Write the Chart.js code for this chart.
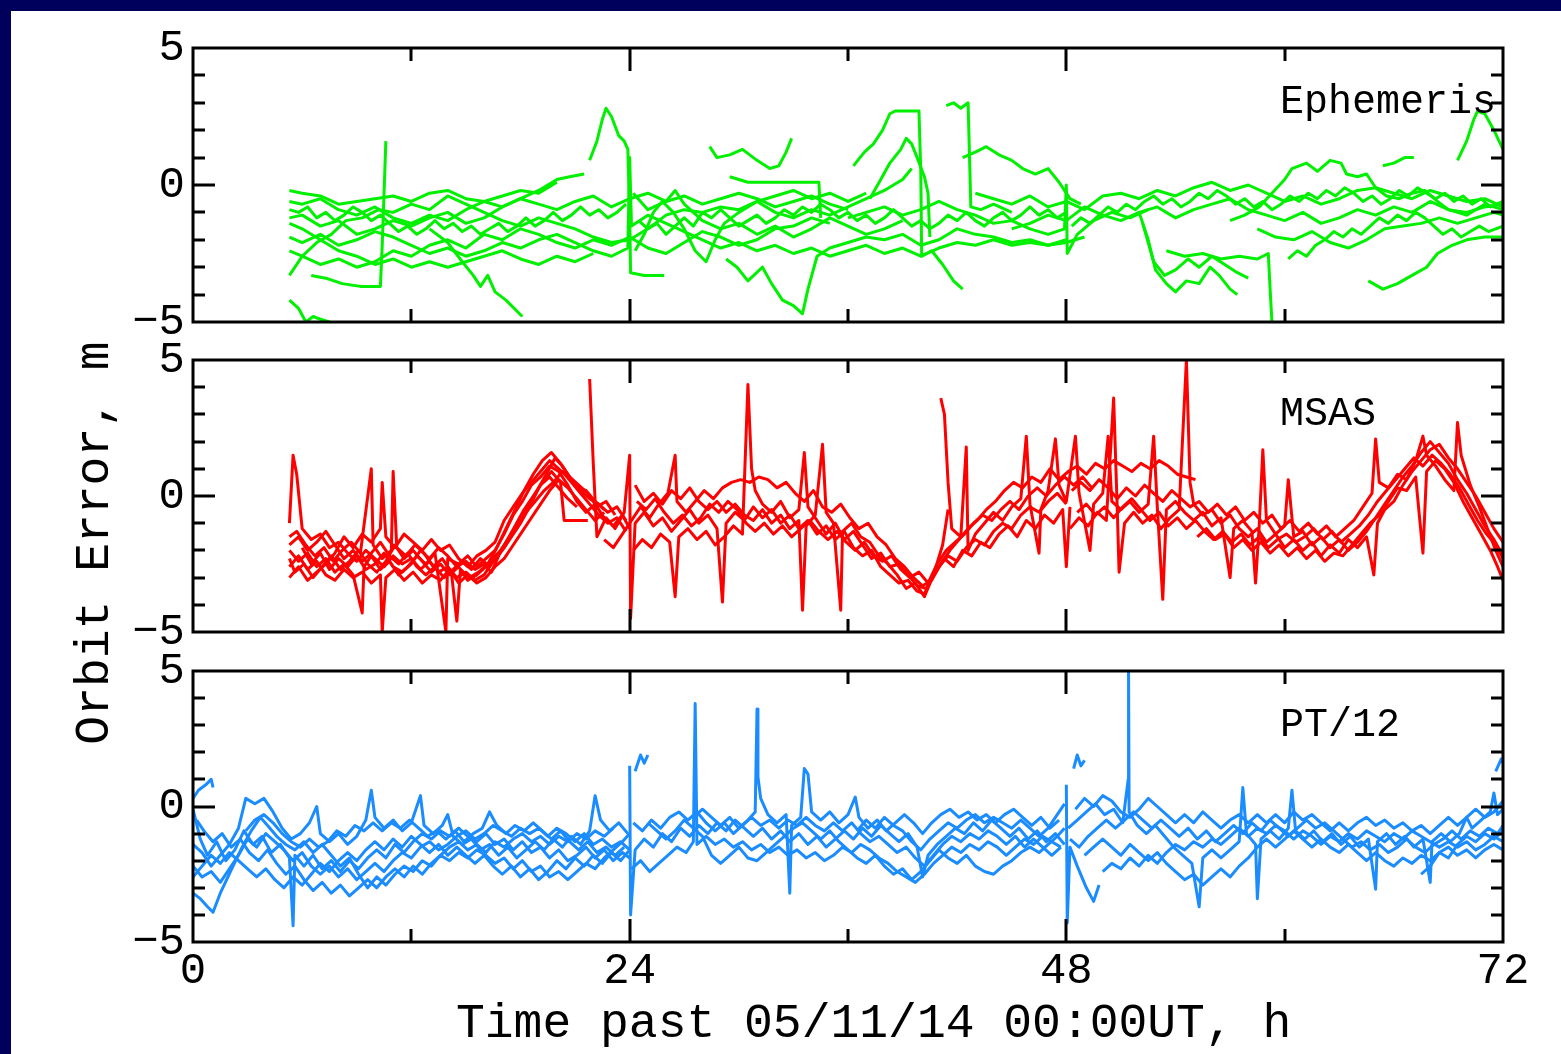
<!DOCTYPE html>
<html lang="en">
<head>
<meta charset="UTF-8">
<title>Orbit Error</title>
<script src="https://cdn.jsdelivr.net/npm/chart.js"></script>
<style>
  body { margin: 0; width: 1561px; height: 1054px; overflow: hidden; position: relative; background: #00005c; font-family: 'Liberation Mono', monospace; }
  #sheet { position: absolute; left: 11px; top: 11px; width: 1550px; height: 1043px; background: #fff; }
  #sheet canvas { position: absolute; left: 0; top: 0; }
  .axis-title { position: absolute; font-family: 'Liberation Mono', monospace; font-size: 48px; line-height: 48px; color: #000; white-space: nowrap; }
  #xtitle { left: 456px; top: 1000px; }
  #ytitle { left: -205px; top: 519px; width: 600px; text-align: center; transform: rotate(-90deg); }
</style>
</head>
<body>
<div id="sheet">
  <canvas id="ephemeris" width="1550" height="1043"></canvas>
  <canvas id="msas" width="1550" height="1043"></canvas>
  <canvas id="pt12" width="1550" height="1043"></canvas>
</div>
<div class="axis-title" id="ytitle">Orbit Error, m</div>
<div class="axis-title" id="xtitle">Time past 05/11/14 00:00UT, h</div>

<script>
// hours on x, metres on y
const xTickHours = [0, 12, 24, 36, 48, 60, 72];
const xTickLabels = [0, 24, 48, 72];
const yTickMetres = [-5, -4, -3, -2, -1, 0, 1, 2, 3, 4, 5];
const yTickLabels = [-5, 0, 5];
const panelNames = ['Ephemeris', 'MSAS', 'PT/12'];

// each track is one satellite pass: [hour, error m]
const ephemerisTracks = [
  [[6.5,-3.3],[7.3,-3.4],[8.2,-3.6],[9.2,-3.7],[10.3,-3.7],[10.4,-2.2],[10.5,-0.3],[10.6,1.6]],
  [[5.3,-3.3],[6,-2.6],[6.8,-2.1],[7.6,-1.8],[8.4,-1.3],[9.3,-1.2],[10.2,-0.9],[11,-1.0],[12,-0.7],[13,-0.9],[14,-0.4],[15,-0.7],[16,-1.0],[17,-1.3],[18,-1.5],[19,-1.2],[20,-1.4],[21,-1.6],[22,-1.9],[23,-2.1],[24,-2.0],[25,-1.6],[26,-1.1],[27,-0.9],[28,-1.0],[29,-0.8],[30,-0.9],[31,-0.6],[32,-1.0],[33,-1.2],[34,-0.9],[35,-1.1],[36,-0.8],[37,-0.5],[38,-0.2],[39,0.2],[39.5,0.6]],
  [[5.3,-0.2],[6,-0.3],[7,-0.4],[8,-0.7],[9,-0.6],[10,-0.5],[11,-0.4],[12,-0.6],[13,-0.3],[14,-0.2],[15,-0.5],[16,-0.6],[17,-0.4],[18,-0.2],[19,-0.3],[20,0.1]],
  [[21.8,0.9],[22.2,1.6],[22.5,2.4],[22.7,2.8],[23,2.5],[23.4,1.8],[23.7,1.6],[23.9,1.3],[24.0,-1.0],[24.05,-3.2],[24.8,-3.3],[25.9,-3.3]],
  [[5.3,-1.2],[6,-1.1],[7,-1.5],[8,-1.3],[9,-1.8],[10,-1.6],[11,-1.3],[12,-1.5],[13,-1.2],[14,-1.0],[15,-1.4],[16,-1.2],[17,-0.8],[18,-0.5],[19,-0.7],[20,-0.9],[21,-0.6],[22,-0.4],[23,-0.8],[24,-0.5],[25,-0.3],[26,-0.6],[27,-0.4],[28,-0.7],[29,-0.5],[30,-0.3],[31,-0.5],[32,-0.8],[33,-0.6],[34,-0.4],[35,-0.7],[36,-0.9]],
  [[5.3,-2.4],[6,-2.6],[7,-2.9],[8,-2.7],[9,-3.0],[10,-2.8],[11,-2.4],[12,-2.6],[13,-2.2],[14,-2.0],[15,-2.3],[16,-1.8],[17,-2.0],[18,-1.6],[19,-1.8],[20,-2.1],[21,-2.3],[22,-2.0],[23,-2.2],[24,-1.9],[25,-2.3],[26,-2.5],[27,-2.1],[28,-1.7],[29,-1.9],[30,-2.2],[31,-2.0],[32,-1.6],[33,-1.5],[34,-1.2],[35,-1.4]],
  [[13,-1.6],[14,-2.1],[14.8,-2.8],[15.4,-3.3],[15.8,-3.7],[16.2,-3.3],[16.6,-3.9],[17.2,-4.2],[18.1,-4.8]],
  [[5.3,-4.2],[5.8,-4.5],[6.2,-5.0],[6.6,-4.8],[7.0,-4.9],[7.5,-5.0]],
  [[29.3,-2.7],[29.9,-3.0],[30.5,-3.5],[31.3,-3.0],[31.8,-3.6],[32.4,-4.2],[33,-4.4],[33.5,-4.7],[33.8,-3.8],[34.3,-2.6],[35,-2.3],[36,-2.1],[37,-1.9],[38,-2.0],[39,-1.8],[40,-2.2],[41,-2.0],[42,-1.6],[43,-1.8],[44,-1.9],[45,-2.1],[46,-2.0],[47,-2.2],[48,-2.1],[49,-1.9]],
  [[36.3,0.7],[36.9,1.2],[37.4,1.5],[37.9,2.0],[38.3,2.6],[38.6,2.7],[39.2,2.7],[39.9,2.7],[40.0,0.5],[40.05,-2.6],[40.6,-2.4],[41.2,-2.9],[41.8,-3.5],[42.3,-3.8]],
  [[37.2,-0.5],[37.8,0.2],[38.3,0.8],[38.9,1.3],[39.2,1.7],[39.5,1.5],[39.8,1.0],[40.2,0.3],[40.4,-0.3],[40.5,-1.9]],
  [[41.4,2.9],[41.8,3.0],[42.2,2.8],[42.6,3.0],[42.7,0.5],[42.75,-0.8],[43.3,-0.9],[44,-0.7],[45,-1.0]],
  [[42.3,1.0],[43,1.2],[43.6,1.4],[44.3,1.1],[45,0.9],[45.6,0.6],[46.3,0.4],[47,0.6],[47.6,0.1],[48.2,-0.5],[48.8,-0.7]],
  [[52,-1.0],[52.5,-2.0],[52.9,-3.1],[53.5,-3.6],[54,-3.9],[54.6,-3.5],[55.3,-3.6],[55.9,-3.0],[56.4,-3.3],[57,-3.8],[57.4,-4.0]],
  [[52.2,-1.4],[52.8,-2.8],[53.4,-3.3],[54,-3.1],[54.7,-2.7],[55.3,-3.0],[56,-2.6],[56.7,-2.9],[57.4,-3.2],[58,-3.4]],
  [[53.5,-2.4],[54.5,-2.6],[55.5,-2.5],[56.5,-2.7],[57.5,-2.6],[58.5,-2.7],[59.1,-2.5],[59.2,-3.8],[59.3,-5.0]],
  [[64.6,-3.5],[65.4,-3.8],[66.2,-3.6],[67,-3.3],[67.8,-3.0],[68.4,-2.5],[69.2,-2.2],[70,-2.0],[71,-1.9],[72,-1.9]],
  [[69.5,0.9],[70,1.6],[70.4,2.4],[70.6,2.7],[71,2.6],[71.5,2.0],[72,1.3]],
  [[65.4,0.7],[66,0.8],[66.6,1.0],[67.1,1.0]],
  [[57,-1.3],[57.8,-1.1],[58.6,-0.8],[59.3,-0.3],[60,0.2],[60.4,0.6],[61.2,0.8],[61.8,0.5],[62.5,0.9],[63.1,0.8],[63.4,0.4],[64,0.3],[64.5,0.4],[65,-0.1],[65.6,-0.4],[66.3,-0.5],[67,-0.3],[67.7,-0.2],[68.4,-0.6],[69,-0.9],[70,-1.0],[71,-0.8],[72,-0.7]],
  [[43,-0.3],[44,-0.5],[45,-0.7],[46,-0.4],[47,-0.8],[48,-0.6],[49,-0.9],[50,-0.4],[51,-0.3],[52,-0.5],[53,-0.2],[54,-0.4],[55,-0.1],[56,0.1],[57,-0.2],[58,0.0],[59,-0.3],[60,-0.6],[61,-0.4],[62,-0.7],[63,-0.5],[64,-0.2],[65,-0.1],[66,-0.3],[67,-0.5],[68,-0.2],[69,-0.4],[70,-0.6],[71,-0.5],[72,-0.8]],
  [[45,-1.6],[46,-1.4],[47,-1.1],[48,-1.3],[49,-0.8],[50,-1.1],[51,-1.3],[52,-1.0],[53,-0.8],[54,-1.2],[55,-0.9],[56,-0.7],[57,-0.5],[58,-0.9],[59,-1.1],[60,-1.3],[61,-1.0],[62,-1.4],[63,-1.2],[64,-0.9],[65,-1.1],[66,-0.8],[67,-1.0],[68,-0.6],[69,-0.9],[70,-1.1],[71,-0.7],[72,-0.9]],
  [[58.5,-1.6],[59.5,-1.9],[60.5,-2.0],[61.5,-1.7],[62.5,-2.1],[63.5,-2.3],[64.5,-2.0],[65.5,-1.6],[66.5,-1.5],[67.5,-1.4],[68.5,-1.2],[69.5,-1.4],[70.5,-1.2],[71.5,-1.0],[72,-1.1]],
  [[36,-1.2],[37,-1.0],[38,-0.8],[39,-1.1],[40,-0.9],[41,-0.6],[42,-0.9],[43,-1.1],[44,-1.4],[45,-1.3],[46,-1.6],[47,-1.8],[47.9,-1.6],[48,0.0],[48.05,-2.5],[48.6,-1.8],[49.5,-1.3],[50.5,-1.0],[51.5,-1.2],[52.5,-0.9]],
  [[24.2,-0.3],[25,-0.9],[26,-0.6],[26.5,-0.2],[27,-0.7],[28,-1.3],[29,-1.6],[30,-1.4],[31,-1.8],[32,-1.5],[33,-1.9],[34,-1.6],[35,-1.2],[36,-1.5],[37,-1.8],[38,-1.6],[39,-1.3]],
  [[24.3,-2.4],[24.8,-1.8],[25.3,-1.0],[25.8,-0.6],[26.4,-1.0],[27,-1.6],[27.6,-2.4],[28.2,-2.8],[28.7,-2.0],[29.2,-1.4],[30,-1.0],[31,-0.6],[32,-0.4],[33,-0.2],[34,-0.5],[35,-0.3],[36,-0.6],[37,-0.3]],
  [[29.5,0.3],[30.5,0.1],[31.5,0.1],[32.5,0.1],[33.5,0.1],[34.4,0.1],[34.5,-1.2]],
  [[28.4,1.4],[28.8,1.0],[29.5,1.1],[30.2,1.3],[31,0.9],[31.7,0.6],[32.2,0.7],[32.6,1.2],[32.9,1.7]],
  [[5.3,-0.6],[6,-0.7],[7,-0.5],[8,-0.9],[9,-1.1],[10,-0.8],[11,-1.2],[12,-1.4],[13,-1.1],[14,-1.3],[15,-0.9],[16,-0.6],[17,-0.8],[18,-0.5],[19,-0.2],[20,0.2],[20.7,0.3],[21.5,0.4]],
  [[5.3,-1.9],[6,-2.1],[7,-1.8],[8,-2.2],[9,-2.0],[10,-1.7],[11,-1.9],[12,-2.2],[13,-2.5],[14,-2.3],[15,-2.6],[16,-2.4],[17,-2.1],[18,-2.3],[19,-2.0],[20,-1.8],[21,-2.1],[22,-2.4],[23,-2.6],[23.9,-2.3],[24.0,1.0],[24.1,-1.5],[25,-1.1],[26,-1.4],[27,-1.7],[28,-2.0],[29,-2.3],[30,-2.1],[31,-2.4],[32,-2.2],[33,-2.5],[34,-2.3],[35,-2.6],[36,-2.4],[37,-2.2],[38,-2.5],[39,-2.3],[40,-2.6],[41,-2.3],[42,-2.1],[43,-2.2],[44,-2.0],[45,-2.2],[46,-2.1],[47,-2.2],[48,-2.0]],
  [[5.3,-1.4],[6,-1.6],[7,-2.0],[8,-2.4],[9,-2.6],[10,-2.9],[11,-2.7],[12,-3.0],[13,-2.8],[14,-3.0],[15,-2.8],[16,-2.6],[17,-2.4],[18,-2.7],[19,-2.9],[20,-2.6],[21,-2.8],[22,-2.5]],
  [[5.3,-0.9],[5.8,-1.0],[6.3,-0.8],[6.8,-1.2],[7.3,-1.0],[7.8,-1.3],[8.3,-1.1],[8.8,-0.8],[9.3,-1.0],[9.8,-1.3],[10.3,-1.1],[10.8,-1.4],[11.3,-1.7],[11.8,-1.5],[12.3,-1.8],[12.8,-1.6],[13.3,-1.3],[13.8,-1.6],[14.3,-1.4],[14.8,-1.7],[15.3,-1.5],[15.8,-1.8],[16.3,-1.6],[16.8,-1.4],[17.3,-1.7],[17.8,-1.5],[18.3,-1.2],[18.8,-1.5],[19.3,-1.3],[19.8,-1.0],[20.3,-1.3],[20.8,-1.1],[21.3,-0.8],[21.8,-1.1],[22.3,-0.9],[22.8,-1.2],[23.3,-1.0],[23.8,-0.7]],
  [[24.5,-1.3],[25,-1.6],[25.5,-1.4],[26,-1.8],[26.5,-1.5],[27,-1.2],[27.5,-1.5],[28,-1.0],[28.5,-1.2],[29,-0.9],[29.5,-1.2],[30,-1.5],[30.5,-1.3],[31,-1.1],[31.5,-1.4],[32,-1.2],[32.5,-0.9],[33,-1.1],[33.5,-0.8],[34,-1.0],[34.5,-0.7],[35,-0.9],[35.5,-1.2],[36,-1.0],[36.5,-1.3],[37,-1.1],[37.5,-1.4],[38,-1.2],[38.5,-0.9],[39,-1.2],[39.5,-1.5],[40,-1.3],[40.5,-1.6],[41,-1.4],[41.5,-1.1],[42,-1.3],[42.5,-1.0],[43,-1.3],[43.5,-1.5],[44,-1.2],[44.5,-1.0],[45,-1.3],[45.5,-1.1],[46,-0.8],[46.5,-1.1],[47,-0.9],[47.5,-1.2],[48,-1.0]],
  [[48.3,-1.5],[48.8,-1.2],[49.3,-1.4],[49.8,-1.1],[50.3,-0.8],[50.8,-1.0],[51.3,-0.7],[51.8,-0.9],[52.3,-0.6],[52.8,-0.4],[53.3,-0.7],[53.8,-0.5],[54.3,-0.8],[54.8,-0.6],[55.3,-0.3],[55.8,-0.5],[56.3,-0.2],[56.8,-0.4],[57.3,-0.7],[57.8,-0.5],[58.3,-0.8],[58.8,-0.6],[59.3,-0.9],[59.8,-0.7],[60.3,-0.4],[60.8,-0.6],[61.3,-0.3],[61.8,-0.5],[62.3,-0.2],[62.8,-0.4],[63.3,-0.1],[63.8,-0.3],[64.3,-0.6],[64.8,-0.4],[65.3,-0.7],[65.8,-0.5],[66.3,-0.2],[66.8,-0.4],[67.3,-0.1],[67.8,-0.3],[68.3,-0.5],[68.8,-0.3],[69.3,-0.6],[69.8,-0.4],[70.3,-0.7],[70.8,-0.5],[71.3,-0.8],[72,-0.6]],
  [[60.2,-2.7],[60.7,-2.4],[61.2,-2.6],[61.7,-2.2],[62.2,-2.0],[62.7,-1.7],[63.2,-1.9],[63.7,-1.6],[64.2,-1.8],[64.7,-1.5],[65.2,-1.2],[65.7,-1.4],[66.2,-1.1],[66.7,-1.3],[67.2,-1.0],[67.7,-1.2],[68.2,-1.5],[68.7,-1.8],[69.2,-1.6],[69.7,-1.9],[70.2,-1.7],[70.7,-1.5],[71.2,-1.7],[72,-1.5]]
];

const msasTracks = [
  [[5.3,-1.0],[5.5,1.5],[5.7,0.8],[6,-1.2],[6.5,-1.6],[7,-1.4],[7.5,-1.9],[8,-1.7],[8.5,-2.1],[9,-2.4],[9.5,-2.0],[10,-2.3],[10.5,-2.6],[11,-2.2],[11.5,-2.5],[12,-2.3],[12.5,-2.7],[13,-2.4],[13.5,-2.8],[14,-2.6],[14.5,-3.0],[15,-2.8],[15.5,-3.1],[16,-2.9],[16.5,-2.4],[17,-2.0],[17.5,-1.5],[18,-1.0],[18.5,-0.4],[19,0.3],[19.5,0.9],[19.9,1.4],[20.3,1.1],[20.8,0.6],[21.3,0.2],[21.8,-0.1],[22.3,-0.3],[22.8,-0.6],[23.3,-0.4],[23.8,-0.9]],
  [[5.3,-2.0],[5.8,-2.4],[6.3,-2.1],[6.8,-2.6],[7.3,-2.3],[7.8,-2.8],[8.3,-2.5],[8.8,-2.9],[9.3,-4.3],[9.4,-2.6],[9.8,-2.2],[10.3,-2.7],[10.8,-2.4],[11.3,-2.9],[11.8,-2.6],[12.3,-2.2],[12.8,-2.5],[13.3,-2.1],[13.9,-5.0],[14.0,-2.3],[14.6,-2.5],[15.1,-2.2],[15.6,-2.6],[16.1,-2.3],[16.6,-2.0],[17.1,-1.4],[17.6,-0.7],[18.1,-0.2],[18.6,0.4],[19.1,0.7],[19.6,1.1],[20.1,0.9],[20.6,0.4],[21.1,-0.2],[21.6,-0.6],[22.1,-0.3],[22.6,-0.8],[23.1,-1.1],[23.6,-0.7],[24.0,-1.2]],
  [[5.3,-1.5],[5.7,-1.3],[6.2,-1.8],[6.7,-2.2],[7.2,-1.9],[7.7,-2.4],[8.2,-2.0],[8.7,-1.7],[9.2,-2.1],[9.8,1.0],[9.9,-1.8],[10.4,-2.3],[10.9,-2.0],[11.0,0.9],[11.2,-1.9],[11.7,-2.2],[12.2,-1.8],[12.7,-2.1],[13.2,-2.6],[13.7,-2.3],[14.2,-2.8],[14.5,-4.6],[14.7,-2.7],[15.2,-3.0],[15.7,-2.8],[16.2,-2.5],[16.7,-1.9],[17.2,-1.2],[17.7,-0.5],[18.2,0.2],[18.7,0.8],[19.2,1.3],[19.7,1.6],[20.2,1.2],[20.7,0.7],[21.2,0.4],[21.7,0.1],[22.2,-0.4],[22.7,-0.2],[23.2,-0.7]],
  [[5.3,-2.6],[5.8,-2.2],[6.3,-2.7],[6.8,-2.4],[7.3,-2.9],[7.8,-3.1],[8.3,-2.7],[8.8,-3.0],[9.3,-2.8],[9.8,-3.2],[10.3,-2.9],[10.4,-5.0],[10.6,-3.0],[11.1,-2.7],[11.6,-3.1],[12.1,-2.8],[12.6,-3.2],[13.1,-2.9],[13.6,-3.1],[14.1,-2.7],[14.6,-3.2],[15.1,-2.9],[15.6,-3.2],[16.1,-3.0],[16.6,-2.6],[17.1,-2.3],[17.6,-1.8],[18.1,-1.3],[18.6,-0.8],[19.1,-0.3],[19.6,0.2],[20.1,0.6],[20.6,0.3],[21.1,-0.1],[21.6,-0.5],[22.1,-0.9],[22.6,-0.6]],
  [[5.3,-3.0],[5.8,-2.6],[6.3,-3.1],[6.8,-2.8],[7.3,-2.5],[7.8,-2.1],[8.3,-1.5],[8.8,-1.9],[9.3,-1.4],[9.8,-1.7],[10.3,-1.2],[10.4,0.5],[10.6,-1.5],[11.1,-1.9],[11.6,-1.4],[12.1,-1.7],[12.6,-2.0],[13.1,-1.6],[13.6,-2.0],[14.1,-1.8],[14.6,-2.3],[15.1,-2.6],[15.6,-2.2],[16.1,-2.0],[16.6,-1.7],[17.1,-0.9],[17.6,-0.4],[18.1,0.1],[18.6,0.5],[19.1,0.9],[19.6,1.3],[20.1,1.0],[20.6,0.7],[21.1,0.3],[21.6,0.2],[22.1,-0.2],[22.6,-0.5]],
  [[6,-1.9],[6.5,-2.5],[7,-2.1],[7.5,-2.7],[8,-2.3],[8.5,-2.6],[9,-2.2],[9.5,-2.7],[10,-2.5],[10.5,-2.1],[11,-2.6],[11.5,-2.8],[12,-2.5],[12.5,-2.0],[13,-2.3],[13.5,-1.9],[14,-2.2],[14.5,-2.6],[15,-2.4],[15.5,-2.7],[16,-2.5],[16.4,-2.8],[16.8,-2.2],[17.2,-1.7],[17.7,-1.1],[18.2,-0.5],[18.7,0.0],[19.2,0.5],[19.7,0.9],[20.2,0.5],[20.4,-0.9],[21,-0.9],[21.7,-0.9]],
  [[21.8,4.3],[22.0,1.2],[22.2,-1.5],[22.7,-0.8],[23.2,-1.2],[23.7,-0.6],[24.0,1.5],[24.05,-4.5],[24.3,-1.0],[24.8,-0.6],[25.3,-1.1],[25.8,-0.8],[26.3,-1.3],[26.8,-0.9],[27.3,-0.5],[27.8,-1.0],[28.3,-0.7],[28.8,-1.2],[29.1,-3.9],[29.3,-1.0],[29.8,-0.6],[30.3,-0.9],[30.8,-0.4],[31.3,-0.8],[31.8,-0.5],[32.3,-1.0],[32.8,-0.7],[33.3,-1.2],[33.8,-0.9],[34.3,-1.4],[34.8,-1.1],[35.3,-1.6],[35.8,-1.3],[36.3,-1.9],[36.8,-2.2],[37.3,-2.0],[37.8,-2.6],[38.3,-2.9],[38.8,-3.2],[39.3,-3.1],[39.8,-3.5],[40.2,-3.6],[40.6,-3.0],[41.0,-2.6],[41.5,-2.2],[42,-2.4],[42.5,-1.9],[43,-1.6],[43.5,-1.8],[44,-1.3],[44.5,-1.0],[45,-1.2],[45.5,-0.7],[46,-0.4],[46.5,-0.6],[47,-0.2],[47.5,0.1],[48,-0.3]],
  [[22.6,-1.6],[23.1,-1.9],[23.6,-1.4],[24.1,-0.9],[24.6,-0.4],[25.1,-0.8],[25.6,-0.3],[26.1,0.1],[26.5,1.5],[26.6,-0.2],[27.1,-0.6],[27.6,-0.2],[28.1,0.2],[28.6,-0.1],[29.1,0.3],[29.6,0.5],[30.1,0.6],[30.6,0.5],[31.1,0.7],[31.6,0.6],[32.1,0.3],[32.6,0.5],[33.1,0.1],[33.6,-0.2],[34.1,0.2],[34.6,-0.4],[35.1,-0.6],[35.6,-0.3],[36.1,-0.8],[36.6,-1.2],[37.1,-1.0],[37.6,-1.5],[38.1,-1.8],[38.6,-2.3],[39.1,-2.6],[39.6,-3.0],[40.1,-3.3],[40.6,-3.1],[41.1,-2.5],[41.6,-2.0],[42.1,-1.6],[42.6,-1.2],[43.1,-0.9],[43.6,-0.5],[44.1,-0.2],[44.6,0.2],[45.1,0.5],[45.6,0.3],[46.1,0.7],[46.6,0.5],[47.1,1.0],[47.6,0.6],[48.1,0.9],[48.6,1.1],[49.1,0.8],[49.6,1.2],[50.1,1.0],[50.6,1.3],[51.1,1.1],[51.6,0.9],[52.1,1.2],[52.6,1.0],[53.1,1.3],[53.6,1.1],[54.1,0.8],[54.6,0.7],[55.1,0.6]],
  [[24.2,-2.0],[24.7,-1.6],[25.2,-1.9],[25.7,-1.4],[26.2,-1.7],[26.5,-3.7],[26.7,-1.5],[27.2,-1.2],[27.7,-1.6],[28.2,-1.3],[28.7,-1.8],[29.2,-1.5],[29.7,-1.1],[30.2,-1.4],[30.5,4.1],[30.7,1.0],[30.9,0.2],[31.3,-0.3],[31.8,-0.6],[32.3,-0.2],[32.8,-0.8],[33.3,-0.5],[33.6,1.6],[33.8,-0.4],[34.3,-0.9],[34.8,-1.4],[35.3,-1.0],[35.8,-1.6],[36.3,-1.3],[36.8,-1.8],[37.3,-2.3],[37.8,-2.1],[38.3,-2.6],[38.8,-2.5],[39.3,-2.9],[39.8,-3.3],[40.3,-3.4],[40.8,-2.8],[41.3,-2.3],[41.8,-2.6],[42.3,-2.0],[42.8,-2.2],[43.3,-1.7],[43.8,-1.9],[44.3,-1.4],[44.8,-1.1],[45.3,-1.5],[45.8,-0.9],[46.3,-1.2],[46.8,-0.7],[47.3,-1.0],[47.8,-0.5],[48.0,-2.6],[48.2,-0.4]],
  [[24.3,0.4],[24.8,-0.2],[25.3,0.1],[25.8,-0.3],[26.3,0.2],[26.8,-0.1],[27.3,0.3],[27.8,-0.2],[28.3,-0.5],[28.8,-0.2],[29.3,-0.6],[29.8,-0.3],[30.3,-0.7],[30.8,-0.9],[31.3,-0.5],[31.8,-1.0],[32.3,-0.7],[32.8,-1.2],[33.3,-0.9],[33.5,-4.2],[33.7,-1.1],[34.2,-0.7],[34.6,1.9],[34.8,-0.6],[35.2,-1.0],[35.6,-4.2],[35.7,-1.3],[36.2,-1.0],[36.7,-1.5],[37.2,-1.7],[37.7,-2.2],[38.2,-2.5],[38.7,-2.9],[39.2,-3.4],[39.7,-3.2],[40.2,-3.7],[40.7,-2.9],[41.2,-1.8],[41.5,-0.5]],
  [[41.1,3.6],[41.3,3.0],[41.5,0.5],[41.7,-1.2],[42.2,-1.5],[42.5,1.8],[42.6,-2.0],[43,-1.4],[43.5,-1.0],[44,-0.6],[44.5,-0.9],[45,-0.4],[45.5,-0.1],[45.8,2.2],[46,-0.3],[46.5,-2.1],[46.6,-0.5],[47,0.2],[47.4,2.1],[47.6,0.4],[48,-0.2],[48.5,2.2],[48.7,0.1],[49.3,-2.0],[49.5,-0.3],[50,0.1],[50.3,2.2],[50.5,-0.2],[51,-0.5],[51.5,-0.2],[52,-0.6],[52.5,-0.3],[52.8,2.2],[53,-0.4],[53.3,-3.8],[53.5,-0.5],[54,-0.2],[54.5,-0.6],[55,-0.9],[55.5,-0.6],[56,-1.1],[56.5,-0.8],[57,-3.0],[57.2,-1.2],[57.7,-0.9],[58.2,-1.3],[58.4,-3.2],[58.6,-1.1],[58.8,1.7],[59,-0.9],[59.5,-1.4],[60,-1.1],[60.2,0.6],[60.5,-1.5],[61,-1.3],[61.5,-1.8],[62,-1.5],[62.5,-1.9],[63,-1.6],[63.5,-2.0],[64,-1.7],[64.5,-1.3],[65,-0.8],[65.5,-0.3],[66,0.2],[66.5,0.7],[67,1.1],[67.5,1.6],[68,2.0],[68.5,1.6],[69,1.2],[69.5,0.6],[70,0.1],[70.5,-0.5],[71,-1.1],[71.5,-1.6],[72,-2.2]],
  [[48.2,-1.2],[48.7,-0.8],[49.2,-1.1],[49.7,-0.6],[50.2,-0.9],[50.6,3.6],[50.8,-0.5],[50.9,-2.8],[51.2,-1.0],[51.7,-0.6],[52.2,-1.0],[52.7,-0.7],[53.2,-1.2],[53.7,-0.8],[54.2,-0.5],[54.6,5.0],[54.8,0.5],[55,-0.3],[55.5,-0.7],[56,-0.5],[56.5,-1.0],[57,-0.7],[57.5,-1.2],[58,-1.5],[58.5,-1.2],[59,-1.7],[59.5,-1.4],[60,-1.9],[60.5,-1.6],[61,-2.0],[61.5,-1.7],[62,-2.2],[62.5,-1.8],[63,-2.1],[63.5,-1.6],[64,-1.9],[64.5,-1.5],[64.9,-2.9],[65.1,-1.0],[65.5,-0.5],[66,-0.2],[66.5,0.4],[67,0.9],[67.5,1.3],[68,1.7],[68.5,1.9],[69,1.4],[69.5,1.0],[70,0.5],[70.5,0.0],[71,-0.6],[71.5,-1.2],[72,-1.7]],
  [[48.3,0.2],[48.8,0.5],[49.3,0.2],[49.8,0.6],[50.3,0.3],[50.8,-0.1],[51.3,0.3],[51.8,0.0],[52.3,0.4],[52.8,0.1],[53.3,-0.2],[53.8,0.2],[54.3,-0.1],[54.8,-0.4],[55.3,-0.2],[55.8,-0.6],[56.3,-0.3],[56.8,-0.7],[57.3,-0.4],[57.8,-0.9],[58.3,-0.6],[58.8,-1.0],[59.3,-0.7],[59.8,-1.2],[60.3,-0.9],[60.8,-1.3],[61.3,-1.0],[61.8,-1.4],[62.3,-1.1],[62.8,-1.5],[63.3,-1.2],[63.8,-0.9],[64.3,-0.4],[64.8,0.1],[65,2.1],[65.2,0.5],[65.7,0.3],[66.2,0.8],[66.7,0.6],[67.2,1.3],[67.6,2.2],[67.8,1.5],[68.3,1.1],[68.8,0.6],[69.3,0.2],[69.5,2.7],[69.7,1.5],[70.2,0.4],[70.7,-0.4],[71.2,-1.3],[71.6,-2.0],[72,-2.6]],
  [[55.2,-1.5],[55.7,-1.2],[56.2,-1.6],[56.7,-1.4],[57.2,-1.9],[57.7,-1.6],[58.2,-2.0],[58.7,-1.7],[59.2,-2.1],[59.7,-1.8],[60.2,-2.2],[60.7,-1.9],[61.2,-2.3],[61.7,-2.0],[62.2,-2.4],[62.7,-2.1],[63.2,-2.2],[63.7,-1.8],[64.2,-1.4],[64.7,-1.0],[65.2,-0.7],[65.7,-0.2],[66.2,0.3],[66.7,0.2],[67.2,0.7],[67.6,-2.1],[67.8,0.9],[68.3,1.3],[68.8,1.0],[69.3,0.5],[69.8,-0.2],[70.3,-0.8],[70.8,-1.4],[71.3,-2.0],[71.7,-2.6],[72,-3.1]],
  [[5.3,-1.8],[5.8,-1.5],[6.3,-2.0],[6.8,-1.7],[7.3,-1.3],[7.8,-1.8],[8.3,-2.3],[8.8,-2.0],[9.3,-2.4],[9.8,-2.1],[10.3,-1.7],[10.8,-2.2],[11.3,-2.5],[11.8,-2.1],[12.3,-2.6],[12.8,-2.9],[13.3,-2.6],[13.8,-3.0],[14.3,-2.7],[14.8,-2.4],[15.3,-2.7],[15.8,-2.3],[16.3,-2.6],[16.8,-2.1],[17.3,-1.6],[17.8,-1.2],[18.3,-0.6],[18.8,-0.2],[19.3,0.2],[19.8,0.5],[20.3,0.9],[20.8,0.5],[21.3,0.1],[21.8,-0.3],[22.3,-0.7],[22.8,-1.0],[23.3,-0.8],[23.8,-1.3]],
  [[5.3,-2.3],[5.6,-2.8],[6.1,-2.5],[6.6,-3.0],[7.1,-2.6],[7.6,-2.2],[8.1,-2.7],[8.6,-2.4],[9.1,-2.0],[9.6,-2.5],[10.1,-2.8],[10.6,-2.4],[11.1,-1.8],[11.6,-2.3],[12.1,-2.0],[12.6,-2.4],[13.1,-2.8],[13.6,-2.5],[14.1,-2.9],[14.6,-2.6],[15.1,-3.1],[15.6,-2.9],[16.1,-2.6],[16.6,-2.2],[17.1,-1.9],[17.6,-1.3],[18.1,-0.8],[18.6,-0.2],[19.1,0.4],[19.6,0.7],[20.1,0.3],[20.6,-0.1],[21.1,-0.4]],
  [[24.4,-0.2],[24.9,-0.5],[25.4,-0.1],[25.9,-0.6],[26.4,-1.0],[26.9,-0.7],[27.4,-1.1],[27.9,-0.8],[28.4,-0.3],[28.9,-0.6],[29.4,-0.2],[29.9,-0.5],[30.4,-1.0],[30.9,-1.3],[31.4,-1.0],[31.9,-1.4],[32.4,-1.1],[32.9,-1.5],[33.4,-1.2],[33.9,-0.9],[34.4,-1.3],[34.9,-1.6],[35.4,-1.3],[35.9,-1.7],[36.4,-2.0],[36.9,-1.7],[37.4,-2.2],[37.9,-2.4],[38.4,-2.2],[38.9,-2.7],[39.4,-3.0],[39.9,-2.8],[40.4,-3.2],[40.9,-2.5],[41.4,-2.0],[41.9,-1.7],[42.4,-1.4],[42.9,-1.0],[43.4,-0.7],[43.9,-0.9],[44.4,-0.5],[44.9,-0.2],[45.4,-0.5],[45.9,0.0],[46.4,0.3],[46.9,0.0],[47.4,0.4],[47.9,0.7],[48.4,0.4],[48.9,0.7],[49.4,0.3]],
  [[48.6,-0.6],[49.1,-0.3],[49.6,-0.7],[50.1,-0.4],[50.6,-0.8],[51.1,-0.4],[51.6,-0.1],[52.1,-0.5],[52.6,-0.9],[53.1,-0.6],[53.6,-1.1],[54.1,-0.8],[54.6,-1.2],[55.1,-0.9],[55.6,-1.3],[56.1,-1.6],[56.6,-1.3],[57.1,-1.7],[57.6,-1.4],[58.1,-1.8],[58.6,-1.5],[59.1,-1.9],[59.6,-1.6],[60.1,-1.4],[60.6,-1.7],[61.1,-1.5],[61.6,-1.2],[62.1,-1.6],[62.6,-1.3],[63.1,-1.7],[63.6,-1.4],[64.1,-1.1],[64.6,-0.7],[65.1,-0.2],[65.6,0.2],[66.1,0.6],[66.6,1.0],[67.1,1.4],[67.6,1.1],[68.1,1.5],[68.6,1.2],[69.1,0.8],[69.6,0.3],[70.1,-0.3],[70.6,-0.9],[71.1,-1.4],[71.6,-1.8],[72,-2.3]]
];

const pt12Tracks = [
  [[0,0.3],[0.3,0.6],[0.7,0.8],[1.0,1.0],[1.1,0.7]],
  [[0,-0.1],[0.4,-1.2],[0.8,-1.8],[1.3,-1.3],[1.8,-2.0],[2.3,-1.6],[2.8,-0.9],[3.3,-1.4],[3.8,-1.1],[4.3,-1.7],[4.8,-1.4],[5.3,-1.9],[5.5,-4.4],[5.6,-1.8],[6.1,-2.2],[6.6,-1.8],[7.1,-2.3],[7.6,-2.0],[8.1,-2.4],[8.6,-2.0],[9.1,-2.3],[9.6,-1.9],[10.1,-1.6],[10.6,-1.9],[11.1,-1.4],[11.6,-1.7],[12.1,-1.3],[12.6,-1.0],[13.1,-1.2],[13.6,-0.9],[14.1,-1.1],[14.6,-0.8],[15.1,-1.1],[15.6,-1.3],[16.1,-1.0],[16.6,-1.4],[17.1,-1.2],[17.6,-1.6],[18.1,-1.3],[18.6,-1.7],[19.1,-1.5],[19.6,-1.9],[20.1,-1.6],[20.6,-2.0],[21.1,-1.8],[21.6,-1.5],[22.1,-1.9],[22.6,-1.6],[23.1,-2.0],[23.6,-1.7],[24.0,-1.9]],
  [[0,-1.4],[0.5,-1.7],[1,-2.2],[1.5,-1.8],[2,-1.4],[2.5,-0.8],[2.9,0.3],[3.4,0.1],[3.9,0.3],[4.4,-0.2],[4.9,-0.8],[5.4,-1.2],[5.9,-1.0],[6.4,-0.6],[6.8,0.0],[7.0,-1.0],[7.5,-1.3],[8,-1.0],[8.5,-1.4],[9,-1.1],[9.5,-0.5],[9.8,0.6],[10.0,-0.4],[10.5,-0.8],[11,-0.5],[11.5,-0.9],[12,-0.6],[12.5,0.4],[12.7,-0.7],[13.2,-1.0],[13.7,-0.7],[14,-0.3],[14.3,-1.1],[14.8,-1.4],[15.3,-1.2],[15.8,-1.6],[16.3,-1.4],[16.8,-1.8],[17.3,-1.5],[17.8,-1.9],[18.3,-1.6],[18.8,-1.3],[19.3,-1.6],[19.8,-1.2],[20.3,-1.5],[20.8,-1.1],[21.3,-1.4],[21.8,-0.9],[22.1,0.4],[22.4,-0.5],[22.9,-0.9],[23.4,-0.6],[23.9,-1.0]],
  [[0,-2.2],[0.5,-2.6],[1,-2.4],[1.5,-2.8],[2,-2.3],[2.5,-1.8],[3,-1.2],[3.5,-1.5],[4,-1.0],[4.5,-1.3],[5,-1.6],[5.5,-2.0],[6,-1.7],[6.5,-2.2],[7,-2.5],[7.5,-2.2],[8,-2.6],[8.5,-2.3],[9,-2.7],[9.5,-2.4],[10,-2.1],[10.5,-2.4],[11,-2.0],[11.5,-1.7],[12,-1.9],[12.5,-1.5],[13,-1.3],[13.5,-1.6],[14,-1.4],[14.5,-1.1],[15,-0.9],[15.5,-1.2],[16,-1.0],[16.5,-0.7],[17,-0.9],[17.5,-1.1],[18,-0.8],[18.5,-1.0],[19,-0.8],[19.5,-1.1],[20,-0.8],[20.5,-1.0],[21,-1.3],[21.5,-1.0],[22,-1.4],[22.5,-1.2],[23,-1.5],[23.5,-1.3],[24,-1.6]],
  [[0,-3.2],[0.4,-3.4],[0.8,-3.7],[1.1,-3.9],[1.5,-3.2],[2.2,-2.2],[2.7,-1.5],[3.2,-0.9],[3.7,-0.4],[4.1,-0.7],[4.6,-1.1],[5.1,-1.4],[5.6,-1.6],[6.1,-1.3],[6.6,-1.7],[7.1,-1.4],[7.6,-1.8],[8.1,-2.2],[8.6,-1.9],[9.1,-2.5],[9.6,-3.0],[10.1,-2.6],[10.6,-2.9],[11.1,-2.5],[11.6,-2.2],[12.1,-2.4],[12.6,-2.0],[13.1,-2.2],[13.6,-1.8],[14.1,-1.5],[14.6,-1.3],[15.1,-1.6],[15.6,-1.4],[16.1,-1.7],[16.6,-1.3],[17.1,-1.5],[17.6,-1.2],[18.1,-1.0],[18.6,-1.3],[19.1,-1.1],[19.6,-1.4],[20.1,-1.1],[20.6,-1.3],[21.1,-1.0],[21.6,-1.2],[22.1,-0.9],[22.6,-1.1],[23.1,-0.8]],
  [[0.2,-0.5],[0.6,-0.9],[1.1,-1.3],[1.6,-1.0],[2.1,-1.5],[2.6,-1.2],[3.1,-1.7],[3.6,-2.0],[4.1,-1.6],[4.6,-2.1],[5.1,-2.5],[5.6,-2.2],[6.1,-2.7],[6.6,-3.1],[7.1,-2.8],[7.6,-3.2],[8.1,-2.9],[8.6,-3.3],[9.1,-3.0],[9.6,-2.7],[10.1,-3.0],[10.6,-2.6],[11.1,-2.3],[11.6,-2.6],[12.1,-2.2],[12.6,-2.5],[13.1,-2.1],[13.6,-1.8],[14.1,-2.0],[14.6,-1.7],[15.1,-1.9],[15.6,-1.6],[16.1,-1.8],[16.6,-2.1],[17.1,-1.9],[17.6,-2.3],[18.1,-2.0],[18.6,-2.4],[19.1,-2.2],[19.6,-2.6],[20.1,-2.4],[20.6,-2.7],[21.1,-2.4],[21.6,-2.1],[22.1,-2.3],[22.6,-1.9],[23.1,-1.6],[23.6,-1.3],[24,-1.0]],
  [[2.9,-0.9],[3.4,-0.5],[3.9,-0.3],[4.4,-0.6],[4.9,-1.0],[5.4,-1.3],[5.9,-1.5],[6.4,-1.2],[6.9,-1.5],[7.4,-1.3],[7.9,-0.9],[8.4,-1.1],[8.9,-0.7],[9.4,-0.9],[9.9,-0.6],[10.4,-0.9],[10.9,-0.6],[11.4,-0.8],[11.9,-0.5],[12.4,-0.8],[12.9,-1.1],[13.4,-0.9],[13.9,-1.2],[14.4,-0.9],[14.9,-1.3],[15.4,-1.0],[15.9,-0.8],[16.3,-0.2],[16.7,-0.7],[17.2,-1.0],[17.7,-0.7],[18.2,-0.9],[18.7,-0.6],[19.2,-0.9],[19.7,-1.2],[20.2,-0.9],[20.7,-1.3],[21.2,-1.6],[21.7,-1.3],[22.2,-1.7],[22.7,-1.5],[23.2,-1.8],[23.7,-1.5]],
  [[24.0,1.5],[24.05,-4.0],[24.3,-1.6],[24.8,-1.2],[25.3,-1.5],[25.8,-1.0],[26.3,-1.3],[26.8,-0.8],[27.3,-1.1],[27.8,-0.7],[28.3,-1.0],[28.8,-0.6],[29.3,-0.9],[29.8,-0.5],[30.3,-0.8],[30.8,-1.1],[31.3,-0.8],[31.8,-1.2],[32.3,-0.9],[32.8,-1.3],[33.3,-1.0],[33.8,-1.4],[34.3,-1.1],[34.8,-1.5],[35.3,-1.2],[35.8,-0.9],[36.3,-1.2],[36.8,-0.8],[37.3,-1.1],[37.8,-0.7],[38.3,-1.0],[38.8,-1.3],[39.3,-1.0],[39.8,-1.5],[40.1,-2.6],[40.4,-1.8],[40.9,-1.4],[41.4,-1.1],[41.9,-0.8],[42.4,-1.0],[42.9,-0.6],[43.4,-0.9],[43.9,-0.5],[44.4,-0.8],[44.9,-1.1],[45.4,-0.8],[45.9,-1.2],[46.4,-0.9],[46.9,-1.3],[47.4,-1.0],[47.9,-1.4]],
  [[24.3,1.3],[24.6,1.9],[24.8,1.6],[25.0,1.9]],
  [[24.1,-2.3],[24.6,-2.0],[25.1,-2.4],[25.6,-2.1],[26.1,-1.8],[26.6,-1.5],[27.1,-1.7],[27.5,-1.3],[27.6,3.8],[27.7,-1.4],[28.2,-1.1],[28.7,-1.4],[29.2,-1.2],[29.7,-1.5],[30.2,-1.3],[30.7,-1.6],[31.2,-1.4],[31.7,-1.7],[32.2,-1.5],[32.7,-1.8],[33.2,-1.6],[33.7,-1.9],[34.2,-1.7],[34.7,-2.0],[35.2,-1.8],[35.7,-1.5],[36.2,-1.7],[36.7,-1.4],[37.2,-1.6],[37.7,-1.9],[38.2,-2.1],[38.7,-2.4],[39.2,-2.6],[39.7,-2.8],[40.2,-2.5],[40.7,-2.1],[41.2,-1.8],[41.7,-1.5],[42.2,-1.7],[42.7,-1.4],[43.2,-1.6],[43.7,-1.3],[44.2,-1.5],[44.7,-1.8],[45.2,-1.5],[45.7,-1.2],[46.2,-1.4],[46.7,-1.1],[47.2,-1.3],[47.7,-1.5]],
  [[27.5,-0.4],[28,-0.1],[28.5,-0.4],[29,-0.7],[29.5,-0.4],[30,-0.8],[30.5,-0.5],[30.9,-0.2],[31.0,3.6],[31.05,1.1],[31.2,0.3],[31.6,-0.3],[32.1,-0.6],[32.6,-0.3],[32.8,-3.2],[32.9,-0.7],[33.4,-0.4],[33.6,1.4],[33.8,1.2],[34.0,-0.2],[34.5,-0.5],[35,-0.2],[35.5,-0.6],[36,-0.3],[36.4,0.35],[36.6,-0.4],[37.1,-0.8],[37.6,-0.5],[38.1,-0.9],[38.6,-0.6],[39.1,-0.3],[39.6,-0.6],[40.1,-1.0],[40.6,-0.6],[41.1,-0.3],[41.6,-0.1],[42.1,-0.4],[42.6,-0.2],[43.1,-0.5],[43.6,-0.3],[44.1,-0.6],[44.6,-0.3],[45.1,-0.1],[45.6,-0.4],[46.1,-0.7],[46.6,-0.4],[47.1,-0.8],[47.6,-0.5]],
  [[25,-0.6],[25.5,-0.9],[26,-1.2],[26.5,-0.9],[27,-0.5],[27.5,-0.8],[28,-1.1],[28.5,-1.8],[29,-2.1],[29.5,-1.8],[30,-1.5],[30.5,-1.9],[31,-2.0],[31.5,-1.7],[32,-1.4],[32.5,-1.1],[33,-0.8],[33.5,-0.6],[34,-0.9],[34.5,-1.2],[35,-0.9],[35.5,-1.3],[36,-1.6],[36.5,-1.9],[37,-2.1],[37.5,-1.8],[38,-2.2],[38.5,-2.5],[39,-2.3],[39.5,-2.7],[40,-2.4],[40.5,-2.0],[41,-1.6],[41.5,-1.9],[42,-2.1],[42.5,-1.8],[43,-2.2],[43.5,-2.4],[44,-2.5],[44.5,-2.2],[45,-2.0],[45.5,-1.7],[46,-1.5],[46.5,-1.7],[47,-1.4],[47.5,-1.1],[47.9,-0.8]],
  [[48,0.8],[48.05,-4.3],[48.2,-1.5],[48.6,-2.2],[49.1,-3.0],[49.5,-3.5],[49.8,-2.9]],
  [[48.4,1.4],[48.6,1.9],[48.8,1.5],[49,1.7]],
  [[48.1,-0.8],[48.6,-0.5],[49.1,-0.2],[49.6,0.1],[50.1,-0.3],[50.6,-0.1],[51.1,-0.6],[51.4,1.0],[51.42,5.0],[51.45,-0.2],[51.9,-0.7],[52.4,-1.0],[52.9,-0.7],[53.4,-1.1],[53.9,-1.5],[54.4,-1.8],[54.9,-2.1],[55.3,-3.7],[55.5,-1.9],[56,-1.6],[56.5,-1.9],[57,-1.6],[57.5,-1.3],[57.7,0.7],[57.9,-1.0],[58.4,-1.4],[58.5,-3.4],[58.7,-1.2],[59.2,-0.9],[59.7,-1.2],[60.2,-0.8],[60.4,0.6],[60.6,-0.9],[61.1,-1.2],[61.6,-0.9],[62.1,-1.3],[62.6,-1.0],[63.1,-1.4],[63.6,-1.1],[64.1,-1.5],[64.6,-1.2],[65,-3.05],[65.1,-1.3],[65.6,-1.0],[66.1,-1.4],[66.6,-1.1],[67.1,-1.5],[67.6,-1.2],[68,-2.8],[68.1,-1.3],[68.6,-1.0],[69.1,-1.3],[69.6,-1.0],[70,-0.4],[70.3,-0.8],[70.8,-0.5],[71.3,-0.2],[71.5,0.5],[71.7,-0.3],[72,-0.1]],
  [[48.2,-1.2],[48.7,-1.5],[49.2,-1.1],[49.7,-0.8],[50.2,-0.5],[50.7,-0.8],[51.2,-0.5],[51.7,-0.2],[52.2,-0.5],[52.7,-0.8],[53.2,-0.5],[53.7,-0.8],[54.2,-1.1],[54.7,-0.8],[55.2,-1.2],[55.7,-0.9],[56.2,-1.3],[56.7,-1.0],[57.2,-0.7],[57.7,-1.0],[58.2,-0.6],[58.7,-0.9],[59.2,-0.5],[59.7,-0.8],[60.2,-1.1],[60.7,-0.8],[61.2,-0.5],[61.7,-0.8],[62.2,-0.6],[62.7,-0.9],[63.2,-1.2],[63.7,-1.5],[64.2,-1.3],[64.7,-1.6],[65.2,-1.4],[65.7,-1.7],[66.2,-1.5],[66.7,-1.2],[67.2,-1.5],[67.7,-1.7],[68.2,-1.4],[68.7,-1.2],[69.2,-0.9],[69.7,-1.2],[70.2,-0.9],[70.7,-1.1],[71.2,-0.8],[71.7,-1.0],[72,-0.7]],
  [[49,-1.8],[49.5,-1.5],[50,-1.2],[50.5,-1.5],[51,-1.8],[51.5,-1.4],[52,-1.7],[52.5,-2.0],[53,-1.7],[53.5,-2.1],[54,-2.4],[54.5,-2.7],[55,-2.5],[55.5,-2.9],[56,-2.6],[56.5,-2.3],[57,-2.6],[57.5,-2.2],[58,-1.9],[58.5,-1.5],[59,-1.2],[59.5,-1.5],[60,-1.2],[60.5,-0.9],[61,-1.2],[61.5,-1.5],[62,-1.2],[62.5,-1.5],[63,-1.7],[63.5,-1.4],[64,-1.7],[64.5,-2.0],[65,-1.7],[65.5,-2.0],[66,-2.2],[66.5,-1.9],[67,-2.1],[67.5,-1.8],[68,-2.0],[68.5,-1.7],[69,-1.5],[69.5,-1.8],[70,-1.6],[70.5,-1.9],[71,-1.6],[71.5,-1.4],[72,-1.6]],
  [[48.5,-0.1],[49,0.3],[49.5,0.0],[50,0.4],[50.5,0.2],[51,-0.2],[51.5,-0.4],[52,-0.1],[52.5,0.3],[53,0.0],[53.5,-0.3],[54,-0.6],[54.5,-0.3],[55,-0.6],[55.5,-0.2],[56,-0.5],[56.5,-0.8],[57,-0.5],[57.5,-0.3],[58,-0.6],[58.5,-0.3],[59,-0.6],[59.5,-0.3],[60,-0.6],[60.5,-0.2],[61,-0.5],[61.5,-0.3],[62,-0.6],[62.5,-0.9],[63,-0.6],[63.5,-0.9],[64,-0.6],[64.5,-0.4],[65,-0.7],[65.5,-0.5],[66,-0.8],[66.5,-0.6],[67,-0.9],[67.5,-0.7],[68,-1.0],[68.5,-0.7],[69,-0.4],[69.5,-0.7],[70,-0.4],[70.5,-0.1],[71,-0.4],[71.5,-0.2],[72,0.2]],
  [[67.5,-2.5],[68,-2.2],[68.5,-1.7],[69,-1.9],[69.5,-1.4],[70,-1.1],[70.5,-1.3],[71,-1.0],[71.5,-1.2],[72,-0.9]],
  [[71.6,1.3],[71.9,1.75],[72,1.6]],
  [[36.5,-0.9],[37,-0.5],[37.5,-0.8],[38,-0.4],[38.5,-0.7],[39,-0.9],[39.5,-1.3],[40,-1.6],[40.5,-1.2],[41,-0.9],[41.5,-0.6],[42,-0.8],[42.5,-0.5],[43,-0.3],[43.5,-0.6],[44,-0.4],[44.5,-0.6],[45,-0.8],[45.5,-0.5],[46,-0.8],[46.5,-1.1],[47,-0.8],[47.5,-0.3],[47.9,0.1]],
  [[0,-2.6],[0.5,-2.2],[1,-1.8],[1.5,-2.1],[2,-1.7],[2.5,-2.0],[3,-2.3],[3.5,-2.6],[4,-2.3],[4.5,-2.7],[5,-3.0],[5.5,-2.6],[6,-2.9],[6.5,-2.5],[7,-2.1],[7.5,-2.4],[8,-2.0],[8.5,-1.7],[9,-2.0],[9.5,-1.6],[10,-1.3],[10.5,-1.6],[11,-1.2],[11.5,-1.5],[12,-1.1],[12.5,-1.4],[13,-1.7],[13.5,-1.4],[14,-1.8],[14.5,-1.5],[15,-1.8],[15.5,-2.1],[16,-1.8],[16.5,-2.2],[17,-2.5],[17.5,-2.2],[18,-2.6],[18.5,-2.3],[19,-2.7],[19.5,-2.4],[20,-2.0],[20.5,-2.3],[21,-1.9],[21.5,-2.2],[22,-1.8],[22.5,-2.1],[23,-1.7],[23.5,-2.0],[24,-1.6]],
  [[24.2,-0.6],[24.7,-0.9],[25.2,-0.5],[25.7,-0.8],[26.2,-0.4],[26.7,-0.2],[27.2,-0.5],[27.7,-0.2],[28.2,-0.6],[28.7,-0.9],[29.2,-0.6],[29.7,-1.0],[30.2,-0.7],[30.7,-0.4],[31.2,-0.7],[31.7,-0.5],[32.2,-0.8],[32.7,-0.5],[33.2,-0.7],[33.7,-0.4],[34.2,-0.7],[34.7,-0.9],[35.2,-0.6],[35.7,-0.9],[36.2,-0.6],[36.7,-1.0],[37.2,-1.3],[37.7,-1.1],[38.2,-1.4],[38.7,-1.7],[39.2,-1.5],[39.7,-1.9],[40.2,-2.2],[40.7,-1.8],[41.2,-1.4],[41.7,-1.1],[42.2,-1.3],[42.7,-1.0],[43.2,-1.2],[43.7,-0.9],[44.2,-1.1],[44.7,-1.4],[45.2,-1.1],[45.7,-1.5],[46.2,-1.2],[46.7,-1.5],[47.2,-1.8],[47.7,-1.5]],
  [[50,-2.4],[50.5,-2.1],[51,-2.3],[51.5,-1.9],[52,-2.2],[52.5,-1.8],[53,-2.1],[53.5,-1.7],[54,-1.4],[54.5,-1.6],[55,-1.3],[55.5,-1.5],[56,-1.2],[56.5,-1.4],[57,-1.1],[57.5,-0.8],[58,-1.1],[58.5,-0.8],[59,-1.0],[59.5,-0.7],[60,-0.9],[60.5,-1.2],[61,-0.9],[61.5,-1.1],[62,-1.4],[62.5,-1.1],[63,-1.3],[63.5,-1.0],[64,-1.2],[64.5,-0.9],[65,-1.1],[65.5,-1.3],[66,-1.0],[66.5,-1.2],[67,-0.9],[67.5,-1.1],[68,-1.3],[68.5,-1.5],[69,-1.3],[69.5,-1.5],[70,-1.3],[70.5,-1.6],[71,-1.4],[71.5,-1.1],[72,-1.3]]
];

const SHEET_W = 1550, SHEET_H = 1043;
const PLOT_RIGHT = 1492;
const tickFont = { family: "'Liberation Mono', monospace", size: 44 };

// box frame with inward ticks, plus the panel name
const framePlugin = {
  id: 'frame',
  afterDraw(chart, args, opts) {
    const { ctx, chartArea: a, scales: { x, y } } = chart;
    ctx.save();
    ctx.strokeStyle = '#000';
    ctx.lineWidth = 3;
    ctx.beginPath();
    xTickHours.forEach(h => {
      if (h === 0 || h === 72) return;
      const px = Math.round(x.getPixelForValue(h));
      const len = h % 24 === 0 ? 23 : 13;
      ctx.moveTo(px, a.top); ctx.lineTo(px, a.top + len);
      ctx.moveTo(px, a.bottom); ctx.lineTo(px, a.bottom - len);
    });
    yTickMetres.forEach(v => {
      if (v === -5 || v === 5) return;
      const py = Math.round(y.getPixelForValue(v));
      const len = v === 0 ? 22 : 12;
      ctx.moveTo(a.left, py); ctx.lineTo(a.left + len, py);
      ctx.moveTo(a.right, py); ctx.lineTo(a.right - len, py);
    });
    ctx.stroke();
    ctx.strokeRect(a.left, a.top, a.right - a.left, a.bottom - a.top);
    ctx.fillStyle = '#000';
    ctx.font = "40px 'Liberation Mono', monospace";
    ctx.textBaseline = 'alphabetic';
    ctx.fillText(opts.text, a.left + 1087, a.top + 65);
    ctx.restore();
  }
};

function buildPanel(id, tracks, colour, name, top, bottom, showX) {
  const xAxisHeight = showX ? 80 : 0;
  const datasets = tracks.map(t => ({
    data: t.map(p => ({ x: p[0], y: p[1] })),
    showLine: true,
    borderColor: colour,
    borderWidth: 3,
    borderJoinStyle: 'round',
    pointRadius: 0,
    fill: false,
    tension: 0
  }));
  return new Chart(document.getElementById(id), {
    type: 'scatter',
    data: { datasets },
    options: {
      responsive: false,
      animation: false,
      devicePixelRatio: 1,
      events: [],
      layout: {
        padding: { left: 0, right: SHEET_W - PLOT_RIGHT, top: top, bottom: SHEET_H - bottom - xAxisHeight }
      },
      plugins: {
        legend: { display: false },
        tooltip: { enabled: false },
        frame: { text: name }
      },
      scales: {
        x: {
          type: 'linear',
          min: 0,
          max: 72,
          display: showX,
          afterFit: s => { s.height = xAxisHeight; },
          grid: { display: false },
          border: { display: false },
          ticks: {
            stepSize: 12,
            autoSkip: false,
            maxRotation: 0,
            padding: -5,
            color: '#000',
            font: tickFont,
            callback: v => xTickLabels.includes(v) ? String(v) : ''
          }
        },
        y: {
          min: -5,
          max: 5,
          afterFit: s => { s.width = 182; },
          grid: { display: false },
          border: { display: false },
          ticks: {
            stepSize: 1,
            autoSkip: false,
            padding: 0,
            color: '#000',
            font: tickFont,
            callback: v => yTickLabels.includes(v) ? String(v).replace('-', '\u2212') : ''
          }
        }
      }
    },
    plugins: [framePlugin]
  });
}

buildPanel('ephemeris', ephemerisTracks, '#00f000', panelNames[0], 37, 311, false);
buildPanel('msas', msasTracks, '#ff0000', panelNames[1], 349, 621, false);
buildPanel('pt12', pt12Tracks, '#1a8cff', panelNames[2], 660, 931, true);
</script>
</body>
</html>
